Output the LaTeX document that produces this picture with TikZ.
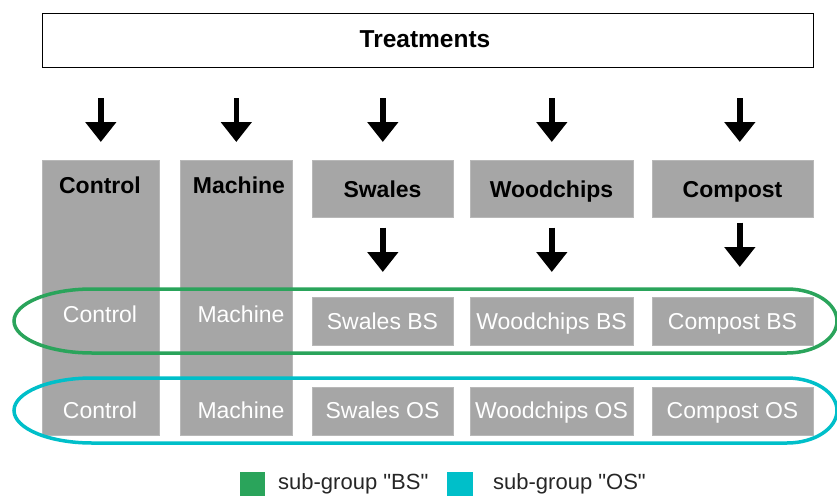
\documentclass[tikz,border=0pt]{standalone}
\usepackage{fontspec}
\setmainfont{Liberation Sans}
\usetikzlibrary{arrows.meta,calc}
\definecolor{boxgray}{HTML}{A6A6A6}
\definecolor{grpgreen}{HTML}{2AA45B}
\definecolor{grpcyan}{HTML}{00BFC9}
\tikzset{
  graybox/.style={fill=boxgray, draw=boxgray!80!white, line width=0.6pt, inner sep=0pt, anchor=north west},
  headtxt/.style={font=\fontsize{23}{27}\selectfont\bfseries, text=black, inner sep=0pt, anchor=base},
  celltxt/.style={font=\fontsize{23}{27}\selectfont, text=white, inner sep=0pt, anchor=base},
  legtxt/.style={font=\fontsize{22}{26}\selectfont, text=black!85, inner sep=0pt, anchor=base west},
  bigarrow/.style={line width=5.5pt, -{Triangle[length=20pt,width=30pt]}},
  grpline/.style={line width=3.5pt}
}
\begin{document}
\begin{tikzpicture}[x=1pt,y=-1pt]
\useasboundingbox (0,0) rectangle (837,495);
% Treatments
\node[draw=black, line width=1.4pt, minimum width=771pt, minimum height=54pt, anchor=north west, inner sep=0pt] (treat) at (42,13) {};
\node[font=\fontsize{24.5}{28}\selectfont\bfseries, inner sep=0pt, anchor=base] (treattxt) at (425,48) {Treatments};
% columns
\node[graybox, minimum width=117pt, minimum height=275pt] (colC) at (42,160) {};
\node[graybox, minimum width=112pt, minimum height=275pt] (colM) at (180,160) {};
\node[headtxt] (colCt) at (100,193) {Control};
\node[headtxt] (colMt) at (239,193) {Machine};
% headers
\node[graybox, minimum width=141pt, minimum height=57pt] (hS) at (312,160) {};
\node[graybox, minimum width=163pt, minimum height=57pt] (hW) at (470,160) {};
\node[graybox, minimum width=161pt, minimum height=57pt] (hCo) at (652,160) {};
\node[headtxt] (hSt) at (382.5,197) {Swales};
\node[headtxt] (hWt) at (551.5,197) {Woodchips};
\node[headtxt] (hCot) at (732.5,197) {Compost};
% BS row
\node[graybox, minimum width=141pt, minimum height=48pt] (bS) at (312,297) {};
\node[graybox, minimum width=163pt, minimum height=48pt] (bW) at (470,297) {};
\node[graybox, minimum width=161pt, minimum height=48pt] (bCo) at (652,297) {};
\node[celltxt] (bSt) at (382.5,329) {Swales BS};
\node[celltxt] (bWt) at (551.5,329) {Woodchips BS};
\node[celltxt] (bCot) at (732.5,329) {Compost BS};
\node[celltxt] (bCt) at (100,322) {Control};
\node[celltxt] (bMt) at (241,322) {Machine};
% OS row
\node[graybox, minimum width=141pt, minimum height=48pt] (oS) at (312,387) {};
\node[graybox, minimum width=163pt, minimum height=48pt] (oW) at (470,387) {};
\node[graybox, minimum width=161pt, minimum height=48pt] (oCo) at (652,387) {};
\node[celltxt] (oSt) at (382.5,418) {Swales OS};
\node[celltxt] (oWt) at (551.5,418) {Woodchips OS};
\node[celltxt] (oCot) at (732.5,418) {Compost OS};
\node[celltxt] (oCt) at (100,418) {Control};
\node[celltxt] (oMt) at (241,418) {Machine};
% top arrows
\draw[bigarrow, shorten <=30pt, shorten >=18pt] (treat.south -| colC.north) -- (colC.north);
\draw[bigarrow, shorten <=30pt, shorten >=18pt] (treat.south -| colM.north) -- (colM.north);
\draw[bigarrow, shorten <=30pt, shorten >=18pt] (treat.south -| hS.north) -- (hS.north);
\draw[bigarrow, shorten <=30pt, shorten >=18pt] (treat.south -| hW.north) -- (hW.north);
\draw[bigarrow, shorten <=30pt, shorten >=18pt] ($(treat.south -| hCo.north)+(7,0)$) -- ($(hCo.north)+(7,0)$);
% sub arrows
\draw[bigarrow, shorten <=10pt, shorten >=25pt] (hS.south) -- (bS.north);
\draw[bigarrow, shorten <=10pt, shorten >=25pt] (hW.south) -- (bW.north);
\draw[bigarrow, shorten <=5pt, shorten >=30pt] ($(hCo.south)+(7,0)$) -- ($(bCo.north)+(7,0)$);
% group outlines
\draw[grpline, draw=grpgreen] (92,289) -- (787,289) arc[start angle=-90, end angle=90, x radius=50, y radius=32] -- (92,353) arc[start angle=90, end angle=270, x radius=78, y radius=32] -- cycle;
\draw[grpline, draw=grpcyan] (92,378) -- (787,378) arc[start angle=-90, end angle=90, x radius=50, y radius=32.5] -- (92,443) arc[start angle=90, end angle=270, x radius=78, y radius=32.5] -- cycle;
% legend
\node[fill=grpgreen, minimum width=25pt, minimum height=25pt, inner sep=0pt, anchor=north west] (lgG) at (240,472) {};
\node[legtxt] (lgGt) at (278,489.5) {sub-group \textquotedbl BS\textquotedbl};
\node[fill=grpcyan, minimum width=26pt, minimum height=25pt, inner sep=0pt, anchor=north west] (lgC) at (447,472) {};
\node[legtxt] (lgCt) at (493,489.5) {sub-group \textquotedbl OS\textquotedbl};
\end{tikzpicture}
\end{document}
